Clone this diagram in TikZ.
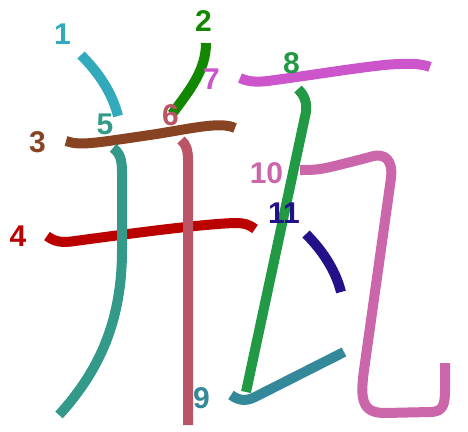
\documentclass[tikz,border=0pt]{standalone}
\usepackage{fontspec}
\setmainfont{Liberation Sans}
\definecolor{c1}{HTML}{33AABB}
\definecolor{c2}{HTML}{118800}
\definecolor{c3}{HTML}{884422}
\definecolor{c4}{HTML}{BB0000}
\definecolor{c5}{HTML}{339988}
\definecolor{c6}{HTML}{BB5566}
\definecolor{c7}{HTML}{CC55CC}
\definecolor{c8}{HTML}{229944}
\definecolor{c9}{HTML}{338899}
\definecolor{c10}{HTML}{CC66AA}
\definecolor{c11}{HTML}{221188}
\tikzset{
  stroke/.style={line width=10pt, line cap=butt, line join=round},
  num/.style={inner sep=0pt, font=\fontsize{30}{30}\selectfont\bfseries}
}
\begin{document}
\begin{tikzpicture}[x=1pt,y=-1pt]
\useasboundingbox (0,0) rectangle (468,431);
% strokes
\draw[stroke,c1] (81,55) .. controls (98,72) and (112,92) .. (118,116);
\draw[stroke,c2] (206,43) .. controls (206,70) and (190,90) .. (172,114);
\draw[stroke,c3] (66,141) .. controls (80,146) and (95,143) .. (150,135) .. controls (190,129) and (220,121) .. (235,128);
\draw[stroke,c4] (47,236) .. controls (55,242) and (62,243) .. (75,241) .. controls (120,235) and (200,224) .. (235,223) .. controls (245,223) and (250,225) .. (255,229);
\draw[stroke,c5] (113,148) .. controls (120,153) and (122,160) .. (122,172) -- (122,250) .. controls (122,320) and (100,370) .. (59,415);
\draw[stroke,c6] (181,140) .. controls (186,144) and (188,150) .. (188,160) -- (188,425);
\draw[stroke,c7] (240,78) .. controls (250,83) and (262,82) .. (275,80) .. controls (320,74) and (380,64) .. (400,64) .. controls (415,63) and (425,65) .. (430,67);
\draw[stroke,c8] (298,89) .. controls (305,96) and (307,103) .. (306,112) -- (246,392);
\draw[stroke,c9] (231,395) .. controls (238,400) and (245,402) .. (255,397) -- (344,352);
\draw[stroke,c10] (300,170) .. controls (320,170) .. (370,157) .. controls (385,152) and (393,160) .. (391,178) -- (364,370) .. controls (360,400) and (362,413) .. (385,413) -- (430,412) .. controls (443,412) and (445,405) .. (445,390) -- (445,363);
\draw[stroke,c11] (306,234) .. controls (320,248) and (335,268) .. (341,292);
% labels
\node[num,c1]  (n1)  at (62.5,34)  {1};
\node[num,c2]  (n2)  at (203.5,21) {2};
\node[num,c3]  (n3)  at (37.5,142.5) {3};
\node[num,c4]  (n4)  at (18,236)   {4};
\node[num,c5]  (n5)  at (105,124)  {5};
\node[num,c6]  (n6)  at (170.5,115) {6};
\node[num,c7]  (n7)  at (211.5,79.5) {7};
\node[num,c8]  (n8)  at (291.5,63.5) {8};
\node[num,c9]  (n9)  at (201.5,398.5) {9};
\node[num,c10] (n10) at (266.5,173.5) {10};
\node[num,c11] (n11) at (284,213) {11};
\end{tikzpicture}
\end{document}
